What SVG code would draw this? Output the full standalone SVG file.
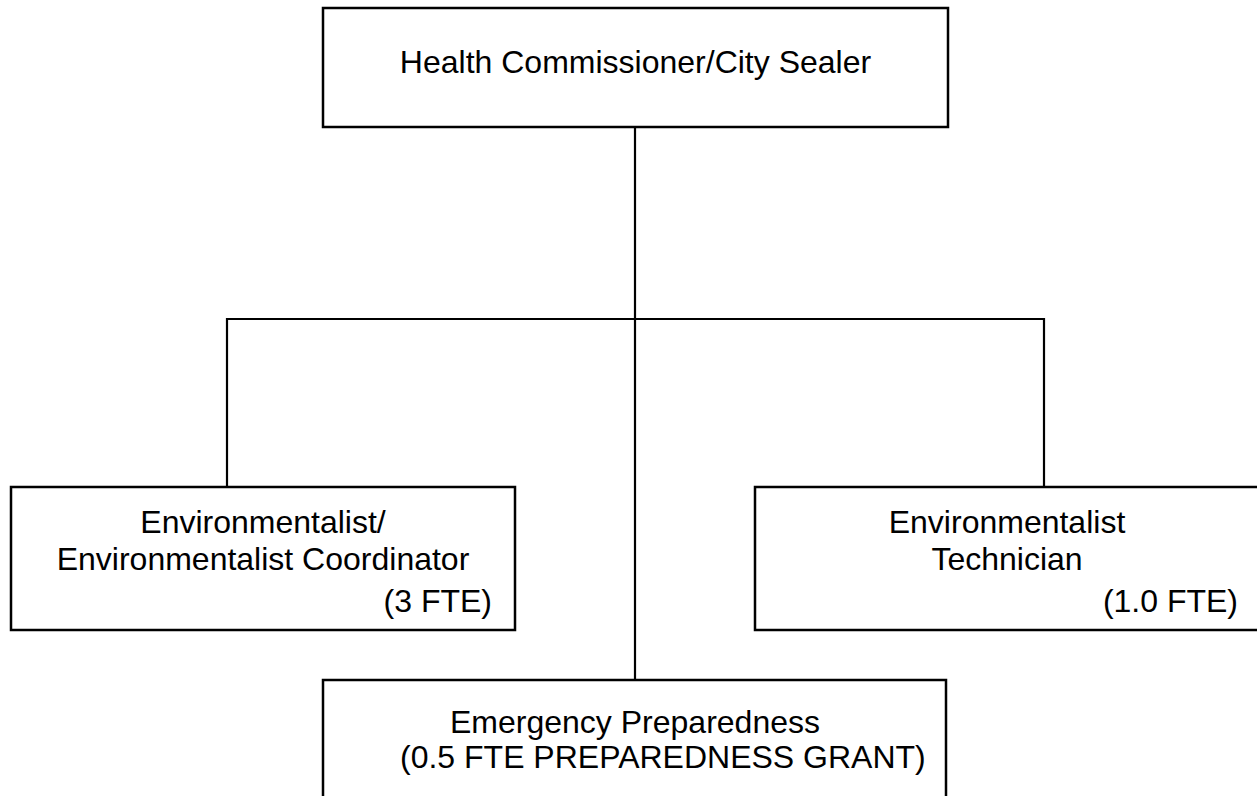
<svg xmlns="http://www.w3.org/2000/svg" width="1257" height="796" viewBox="0 0 1257 796">
<style>
.box{fill:#fff;stroke:#000;stroke-width:2.5}
.conn line{stroke:#000;stroke-width:2.2}
text{font-family:"Liberation Sans",Arial,sans-serif;font-size:32px;fill:#000}
</style>
<rect width="1257" height="796" fill="#fff"/>
<g id="connectors" class="conn">
<line x1="635" y1="127" x2="635" y2="680"/>
<line x1="227" y1="319" x2="1044" y2="319"/>
<line x1="227" y1="318" x2="227" y2="487"/>
<line x1="1044" y1="318" x2="1044" y2="487"/>
</g>
<g id="health-commissioner">
<rect class="box" x="323" y="8" width="625" height="119"/>
<text x="635.5" y="73" text-anchor="middle">Health Commissioner/City Sealer</text>
</g>
<g id="environmentalist-coordinator">
<rect class="box" x="11" y="487" width="504" height="143"/>
<text x="263" y="533" text-anchor="middle">Environmentalist/</text>
<text x="263" y="570" text-anchor="middle">Environmentalist Coordinator</text>
<text x="492" y="612" text-anchor="end">(3 FTE)</text>
</g>
<g id="environmentalist-technician">
<rect class="box" x="755" y="487" width="506" height="143"/>
<text x="1007" y="533" text-anchor="middle">Environmentalist</text>
<text x="1007" y="570" text-anchor="middle">Technician</text>
<text x="1238" y="612" text-anchor="end">(1.0 FTE)</text>
</g>
<g id="emergency-preparedness">
<rect class="box" x="323" y="680" width="623" height="130"/>
<text x="635" y="733" text-anchor="middle">Emergency Preparedness</text>
<text x="400" y="768">(0.5 FTE PREPAREDNESS GRANT)</text>
</g>
</svg>
